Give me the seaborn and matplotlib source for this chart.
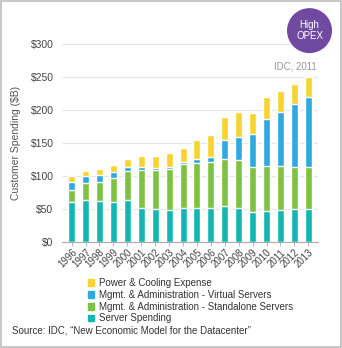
import matplotlib
matplotlib.use("Agg")
import matplotlib.pyplot as plt
from matplotlib.patches import Circle, Rectangle
import numpy as np
import pandas as pd
import seaborn as sns

years = [str(y) for y in range(1996, 2014)]
server_spending = [60, 64, 61, 60, 64, 51, 49, 48, 51, 51, 51, 53.5, 51, 44.5, 46.5, 48.5, 50, 50]
mgmt_standalone = [19, 24.5, 29.5, 37, 44, 58, 59.5, 63, 66.5, 69, 70.5, 72, 73, 69, 69, 67, 64, 64]
mgmt_virtual = [12, 10.5, 10, 9.5, 6, 5, 3.5, 3, 3, 5.5, 7.5, 28.5, 35.5, 49.5, 70.5, 82, 95.7, 105]
power_cooling = [8.5, 8.5, 10, 10, 12, 16, 18, 20.5, 21.5, 29, 33.5, 35.5, 38, 32, 33, 31.5, 30.3, 31]

series_names = ["Power & Cooling Expense",
                "Mgmt. & Administration - Virtual Servers",
                "Mgmt. & Administration - Standalone Servers",
                "Server Spending"]
colors = ["#F7D430", "#2FA9E0", "#7DC243", "#14B6B3"]

df = pd.DataFrame({
    "year": years,
    "Server Spending": server_spending,
    "Mgmt. & Administration - Standalone Servers": mgmt_standalone,
    "Mgmt. & Administration - Virtual Servers": mgmt_virtual,
    "Power & Cooling Expense": power_cooling,
})

sns.set_theme(style="white")
plt.rcParams["font.family"] = ["Liberation Sans", "DejaVu Sans"]

fig = plt.figure(figsize=(3.42, 3.48), dpi=100)
fig.patch.set_facecolor("white")
fig.add_artist(Rectangle((0.003, 0.003), 0.994, 0.994, transform=fig.transFigure,
                         fill=False, edgecolor="#BDBDBD", linewidth=1.2))

ax = fig.add_axes([0.181, 0.3055, 0.749, 0.568])

# stacked bars: draw cumulative totals from the top layer down
stack_order = ["Server Spending",
               "Mgmt. & Administration - Standalone Servers",
               "Mgmt. & Administration - Virtual Servers",
               "Power & Cooling Expense"]
color_map = dict(zip(series_names, colors))
cum = np.zeros(len(years))
cums = {}
for name in stack_order:
    cum = cum + df[name].to_numpy()
    cums[name] = cum.copy()
for name in reversed(stack_order):
    sns.barplot(x=df["year"], y=cums[name], color=color_map[name], width=0.5,
                saturation=1, ax=ax, zorder=3)

ax.set_ylim(0, 300)
ax.set_yticks(range(0, 301, 50))
ax.set_yticklabels([f"${v}" for v in range(0, 301, 50)], fontsize=7.5, color="#444444")
ax.yaxis.grid(True, color="#E6E6E6", linewidth=0.8, zorder=0)
ax.set_axisbelow(True)
for side in ["top", "right", "left"]:
    ax.spines[side].set_visible(False)
ax.spines["bottom"].set_color("#AAAAAA")
ax.spines["bottom"].set_linewidth(0.8)
ax.tick_params(axis="y", length=0, pad=6)
ax.tick_params(axis="x", length=3, color="#AAAAAA", width=0.6, pad=1, bottom=True)
ax.set_xticks(range(len(years)))
ax.set_xticklabels(years, rotation=45, ha="right", rotation_mode="anchor",
                   fontsize=7, color="#444444")
ax.set_xlim(-0.7, len(years) - 0.3)
ax.set_xlabel("")
ax.set_ylabel("Customer Spending ($B)", fontsize=7.5, color="#555555", labelpad=7)

# legend
handles = [Rectangle((0, 0), 1, 1, color=c) for c in colors]
fig.legend(handles, series_names, loc="upper left", bbox_to_anchor=(0.245, 0.212),
           frameon=False, fontsize=7, handlelength=0.7, handleheight=0.7,
           handletextpad=0.5, labelspacing=0.18, borderaxespad=0,
           labelcolor="#333333")

fig.text(0.035, 0.05, "Source: IDC, \u201cNew Economic Model for the Datacenter\u201d",
         fontsize=7, color="#333333", ha="left", va="center")

# badge, kept round by placing it in inches
badge = Circle((0.905 * 3.42, 0.912 * 3.48), 0.225, transform=fig.dpi_scale_trans,
               facecolor="#6F4AA0", edgecolor="none")
fig.add_artist(badge)
fig.text(0.905, 0.912, "High\nOPEX", fontsize=7, color="white",
         ha="center", va="center", linespacing=1.15)

fig.text(0.925, 0.81, "IDC, 2011", fontsize=7, color="#999999", ha="right", va="center")

fig.savefig("out.png", dpi=100, facecolor="white")
